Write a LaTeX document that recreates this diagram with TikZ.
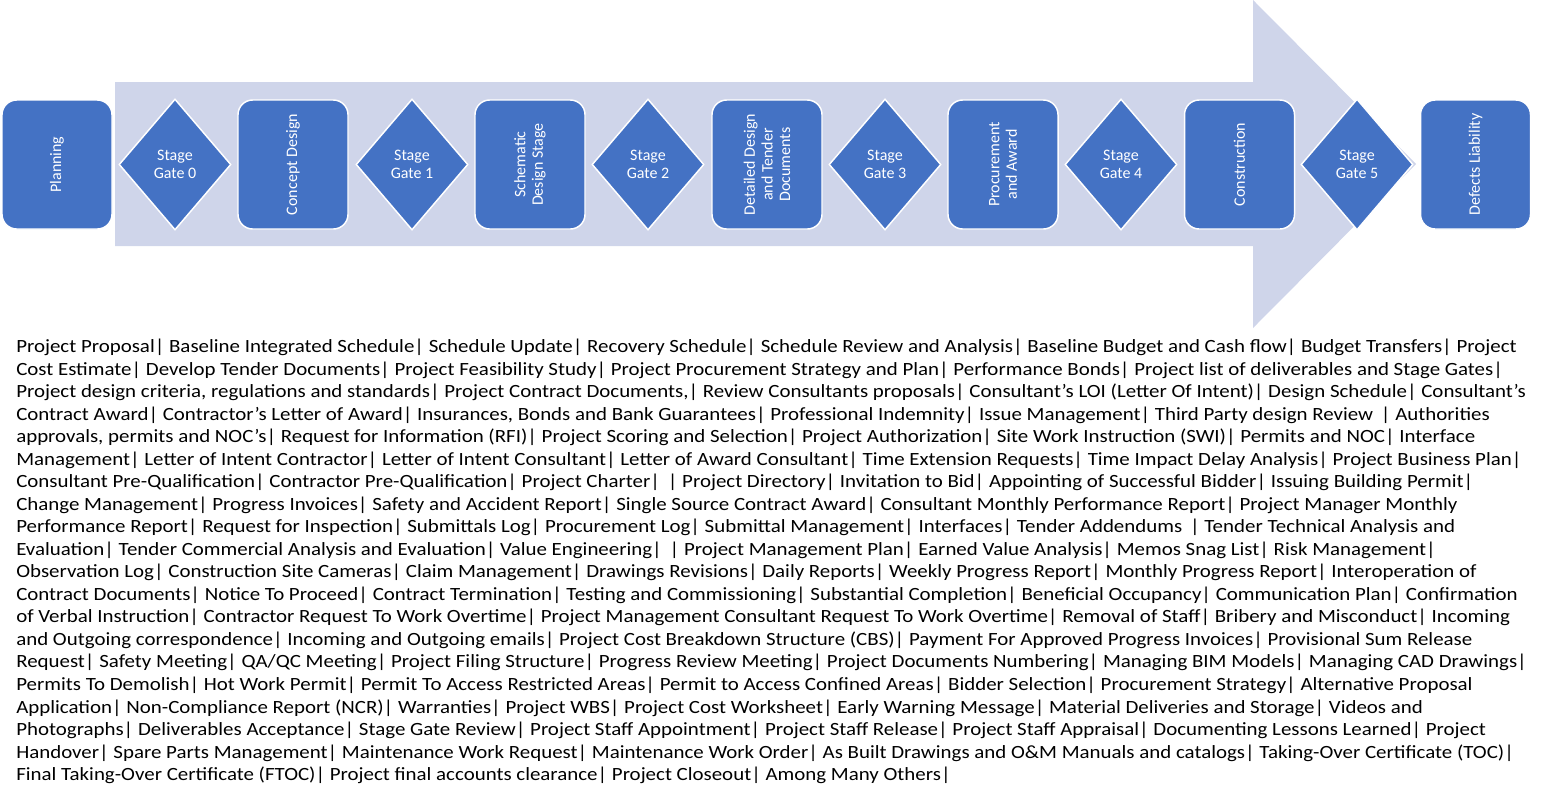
\documentclass[tikz,border=0pt]{standalone}
\usepackage{fontspec}
\setmainfont{Carlito}
\newfontfamily\listfont[FakeStretch=1.12]{Carlito}
\usetikzlibrary{shapes.geometric}
\definecolor{boxblue}{HTML}{4472C4}
\definecolor{arrowfill}{HTML}{CFD5EA}
\begin{document}
\begin{tikzpicture}[x=0.75pt,y=-0.75pt,
  phase/.style={draw=white, line width=1.1pt, fill=boxblue, rounded corners=11pt,
    rotate=90, minimum width=96.75pt, minimum height=82.5pt, inner sep=2pt,
    text=white, align=center, font=\fontsize{12}{13.2}\selectfont},
  gate/.style={diamond, draw=white, line width=1.1pt, fill=boxblue, aspect=0.85,
    minimum width=84pt, minimum height=98.25pt, inner sep=0pt,
    text=white, align=center, font=\fontsize{12}{13.2}\selectfont},
  listline/.style={anchor=base west, inner sep=0pt, font=\listfont\fontsize{14}{16.9}\selectfont}]
\useasboundingbox (0,0) rectangle (1544,800);
% big arrow
\fill[arrowfill] (115,82) -- (1253,82) -- (1253,0) -- (1416,164) -- (1253,328)
  -- (1253,246) -- (115,246) -- cycle;
% phases
\node[phase] (planning) at (57,164.5) {Planning};
\node[phase] (concept) at (293,164.5) {Concept Design};
\node[phase] (schematic) at (530,164.5) {Schematic\\Design Stage};
\node[phase] (detailed) at (767,164.5) {Detailed Design\\and Tender\\Documents};
\node[phase] (procure) at (1003,164.5) {Procurement\\and Award};
\node[phase] (construct) at (1239.5,164.5) {Construction};
\node[phase] (defects) at (1475.5,164.5) {Defects Liability};
% gates
\node[gate] (g0) at (175,164.5) {Stage\\Gate 0};
\node[gate] (g1) at (412,164.5) {Stage\\Gate 1};
\node[gate] (g2) at (648,164.5) {Stage\\Gate 2};
\node[gate] (g3) at (885,164.5) {Stage\\Gate 3};
\node[gate] (g4) at (1121,164.5) {Stage\\Gate 4};
\node[gate] (g5) at (1357,164.5) {Stage\\Gate 5};
% list
\node[listline] (l1) at (16,352.5) {Project Proposal| Baseline Integrated Schedule| Schedule Update| Recovery Schedule| Schedule Review and Analysis| Baseline Budget and Cash flow| Budget Transfers| Project};
\node[listline] (l2) at (16,375.0) {Cost Estimate| Develop Tender Documents| Project Feasibility Study| Project Procurement Strategy and Plan| Performance Bonds| Project list of deliverables and Stage Gates|};
\node[listline] (l3) at (16,397.6) {Project design criteria, regulations and standards| Project Contract Documents,| Review Consultants proposals| Consultant’s LOI (Letter Of Intent)| Design Schedule| Consultant’s};
\node[listline] (l4) at (16,420.1) {Contract Award| Contractor’s Letter of Award| Insurances, Bonds and Bank Guarantees| Professional Indemnity| Issue Management| Third Party design Review \,| Authorities};
\node[listline] (l5) at (16,442.6) {approvals, permits and NOC’s| Request for Information (RFI)| Project Scoring and Selection| Project Authorization| Site Work Instruction (SWI)| Permits and NOC| Interface};
\node[listline] (l6) at (16,465.2) {Management| Letter of Intent Contractor| Letter of Intent Consultant| Letter of Award Consultant| Time Extension Requests| Time Impact Delay Analysis| Project Business Plan|};
\node[listline] (l7) at (16,487.7) {Consultant Pre-Qualification| Contractor Pre-Qualification| Project Charter| \,| Project Directory| Invitation to Bid| Appointing of Successful Bidder| Issuing Building Permit|};
\node[listline] (l8) at (16,510.2) {Change Management| Progress Invoices| Safety and Accident Report| Single Source Contract Award| Consultant Monthly Performance Report| Project Manager Monthly};
\node[listline] (l9) at (16,532.7) {Performance Report| Request for Inspection| Submittals Log| Procurement Log| Submittal Management| Interfaces| Tender Addendums \,| Tender Technical Analysis and};
\node[listline] (l10) at (16,555.3) {Evaluation| Tender Commercial Analysis and Evaluation| Value Engineering| \,| Project Management Plan| Earned Value Analysis| Memos Snag List| Risk Management|};
\node[listline] (l11) at (16,577.8) {Observation Log| Construction Site Cameras| Claim Management| Drawings Revisions| Daily Reports| Weekly Progress Report| Monthly Progress Report| Interoperation of};
\node[listline] (l12) at (16,600.3) {Contract Documents| Notice To Proceed| Contract Termination| Testing and Commissioning| Substantial Completion| Beneficial Occupancy| Communication Plan| Confirmation};
\node[listline] (l13) at (16,622.9) {of Verbal Instruction| Contractor Request To Work Overtime| Project Management Consultant Request To Work Overtime| Removal of Staff| Bribery and Misconduct| Incoming};
\node[listline] (l14) at (16,645.4) {and Outgoing correspondence| Incoming and Outgoing emails| Project Cost Breakdown Structure (CBS)| Payment For Approved Progress Invoices| Provisional Sum Release};
\node[listline] (l15) at (16,667.9) {Request| Safety Meeting| QA/QC Meeting| Project Filing Structure| Progress Review Meeting| Project Documents Numbering| Managing BIM Models| Managing CAD Drawings|};
\node[listline] (l16) at (16,690.5) {Permits To Demolish| Hot Work Permit| Permit To Access Restricted Areas| Permit to Access Confined Areas| Bidder Selection| Procurement Strategy| Alternative Proposal};
\node[listline] (l17) at (16,713.0) {Application| Non-Compliance Report (NCR)| Warranties| Project WBS| Project Cost Worksheet| Early Warning Message| Material Deliveries and Storage| Videos and};
\node[listline] (l18) at (16,735.5) {Photographs| Deliverables Acceptance| Stage Gate Review| Project Staff Appointment| Project Staff Release| Project Staff Appraisal| Documenting Lessons Learned| Project};
\node[listline] (l19) at (16,758.0) {Handover| Spare Parts Management| Maintenance Work Request| Maintenance Work Order| As Built Drawings and O\&M Manuals and catalogs| Taking-Over Certificate (TOC)|};
\node[listline] (l20) at (16,780.6) {Final Taking-Over Certificate (FTOC)| Project final accounts clearance| Project Closeout| Among Many Others|};
\end{tikzpicture}
\end{document}
